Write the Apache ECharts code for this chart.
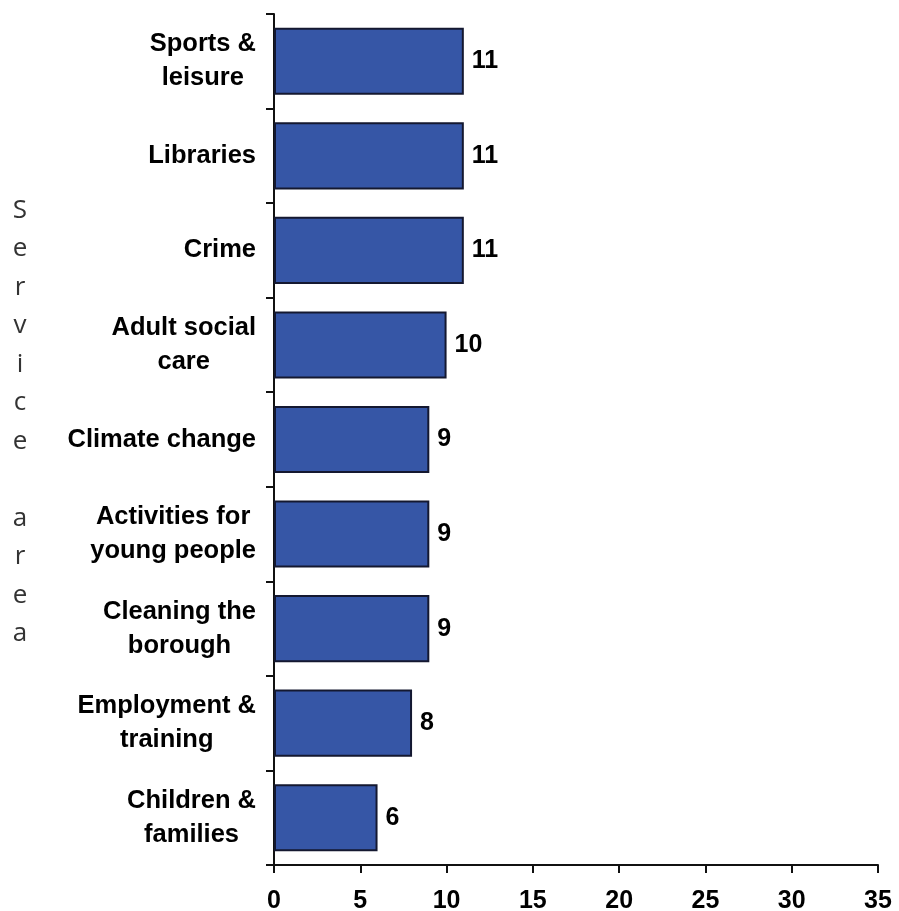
<!DOCTYPE html>
<html>
<head>
    <meta charset="utf-8">
    <style>
        html, body {
            width: 100%;
            height: 100%;
            margin: 0;
            background: #ffffff;
        }

        #chart-panel {
            width: 899px;
            height: 911px;
        }
    </style>
    <script src="https://cdn.jsdelivr.net/npm/echarts@6/dist/echarts.min.js"></script>
</head>
<body>
<div id="chart-panel"></div>
<script type="text/javascript">

  // service areas, top to bottom
  var categories = ['Sports &\nleisure', 'Libraries', 'Crime', 'Adult social\ncare', 'Climate change',
                    'Activities for\nyoung people', 'Cleaning the\nborough', 'Employment &\ntraining',
                    'Children &\nfamilies'];
  var values = [11, 11, 11, 10, 9, 9, 9, 8, 6];
  var xTicks = [0, 5, 10, 15, 20, 25, 30, 35];
  var axisTitle = 'Service area';

  var boldFont = '"Liberation Sans", Arial, sans-serif';

  var myChart = echarts.init(document.getElementById('chart-panel'));

  var option = {
    backgroundColor: '#ffffff',
    animation: false,
    grid: {
      left: 274,
      right: 21,
      top: 14,
      bottom: 46,
      outerBoundsMode: 'none'
    },
    // axis title, one letter per line
    graphic: [{
      type: 'text',
      x: 20,
      y: 422,
      style: {
        text: axisTitle.split('').join('\n'),
        fontFamily: '"Open Sans", sans-serif',
        fontSize: 26,
        lineHeight: 38.5,
        fill: '#333',
        textAlign: 'center',
        textVerticalAlign: 'middle'
      }
    }],
    xAxis: {
      type: 'value',
      min: xTicks[0],
      max: xTicks[xTicks.length - 1],
      interval: 5,
      splitLine: {show: false},
      axisLine: {show: true, lineStyle: {color: '#111', width: 2}},
      axisTick: {show: true, length: 8, lineStyle: {color: '#111', width: 2}},
      axisLabel: {
        margin: 24,
        color: '#000',
        fontSize: 25,
        fontWeight: 'bold',
        fontFamily: boldFont
      }
    },
    yAxis: {
      type: 'category',
      inverse: true,
      data: categories,
      axisLine: {show: true, lineStyle: {color: '#111', width: 2}},
      axisTick: {show: true, length: 8, lineStyle: {color: '#111', width: 2}},
      axisLabel: {
        margin: 18,
        align: 'right',
        formatter: function (v) {
          return v.split('\n').map(function (s) { return '{c|' + s + '}'; }).join('\n');
        },
        rich: {
          c: {
            color: '#000',
            fontSize: 25.5,
            fontWeight: 'bold',
            fontFamily: boldFont,
            lineHeight: 34,
            align: 'center'
          }
        }
      }
    },
    series: [{
      type: 'bar',
      data: values,
      barWidth: '71%',
      itemStyle: {
        color: '#3656a6',
        borderColor: '#141830',
        borderWidth: 2
      },
      label: {
        show: true,
        position: 'right',
        distance: 8,
        color: '#000',
        fontSize: 25,
        fontWeight: 'bold',
        fontFamily: boldFont
      }
    }]
  };

  myChart.setOption(option);
</script>
</body>
</html>
